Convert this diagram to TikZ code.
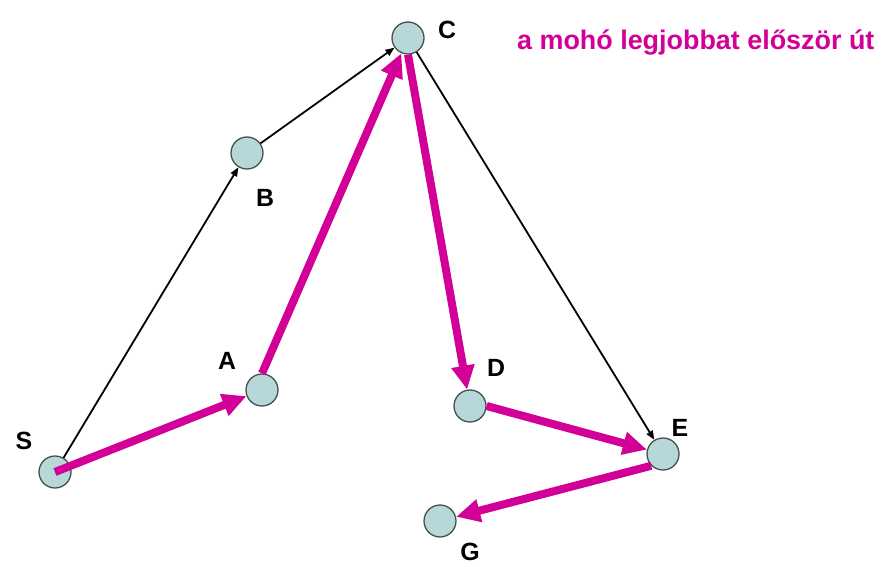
\documentclass[tikz,border=0pt]{standalone}
\usepackage{fontspec}
\setmainfont{Liberation Sans}
\usetikzlibrary{arrows.meta}
\definecolor{mag}{RGB}{210,0,150}
\definecolor{nodefill}{RGB}{182,216,216}
\definecolor{nodeline}{RGB}{70,80,80}
\tikzset{
  vert/.style={circle,draw=nodeline,fill=nodefill,line width=1.3bp,minimum size=32bp,inner sep=0pt},
  lbl/.style={font=\fontsize{25}{25}\selectfont\bfseries,text=black,inner sep=0pt},
  thin/.style={draw=black,line width=1.8bp,-{Triangle[length=9bp,width=7bp]}},
  path/.style={draw=mag,line width=8bp,-{Triangle[length=24bp,width=22bp]}},
}
\begin{document}
\begin{tikzpicture}[x=1bp,y=-1bp]
\useasboundingbox (0,0) rectangle (885,567);
\node[vert] (S) at (55,472) {};
\node[vert] (A) at (262,390) {};
\node[vert] (B) at (247,153) {};
\node[vert] (C) at (408,38) {};
\node[vert] (D) at (470,406) {};
\node[vert] (E) at (663,454) {};
\node[vert] (G) at (440,521) {};
\node[lbl] (lS) at (24,441) {S};
\node[lbl] (lA) at (227,361) {A};
\node[lbl] (lB) at (265,198) {B};
\node[lbl] (lC) at (447,30) {C};
\node[lbl] (lD) at (496,368) {D};
\node[lbl] (lE) at (680,428) {E};
\node[lbl] (lG) at (470,552) {G};
\node[anchor=west,inner sep=0pt,text=mag,font=\fontsize{27}{27}\selectfont\bfseries] (title) at (517,42) {a mohó legjobbat először út};
\draw[thin] (S) -- (B);
\draw[thin] (B) -- (C);
\draw[thin] (C) -- (E);
\draw[path] (S.center) -- (A);
\draw[path] (A.north) -- (C);
\draw[path] (C.south) -- (D);
\draw[path] (D.east) -- (E);
\draw[path] (E.south west) -- (G);
\end{tikzpicture}
\end{document}
